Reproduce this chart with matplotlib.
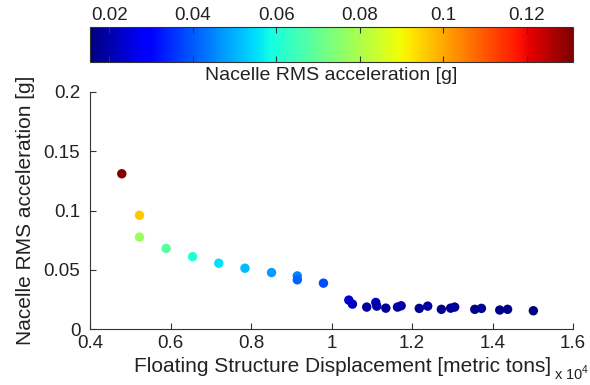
import numpy as np
import matplotlib.pyplot as plt
from matplotlib.ticker import FuncFormatter

plt.rcParams["font.family"] = ["Liberation Sans", "DejaVu Sans"]
plt.rcParams["font.size"] = 13.5
plt.rcParams["mathtext.fontset"] = "custom"
plt.rcParams["mathtext.rm"] = "Liberation Sans"

# floating structure displacement [metric tons]
displacement = [4790, 5230, 5230, 5890, 6550, 7200, 7850, 8510, 9150, 9150,
                9800, 10430, 10520, 10875, 11100, 11125, 11350, 11640, 11730,
                12180, 12390, 12730, 12960, 13060, 13560, 13725, 14180,
                14375, 15015]
# nacelle RMS acceleration [g]
accel = [0.131, 0.096, 0.0776, 0.068, 0.061, 0.0555, 0.0513, 0.0476, 0.0448,
         0.0415, 0.0387, 0.0244, 0.021, 0.0185, 0.0224, 0.0193, 0.0176,
         0.0185, 0.0196, 0.0174, 0.0193, 0.0166, 0.0176, 0.0185, 0.0166,
         0.0174, 0.016, 0.0166, 0.0154]

fig = plt.figure(figsize=(5.9, 3.85), dpi=100)
ax = fig.add_axes([90 / 590, 1 - 329 / 385, 483 / 590, 237 / 385])
cax = fig.add_axes([90 / 590, 1 - 62 / 385, 483 / 590, 35 / 385])

sc = ax.scatter(displacement, accel, c=accel, cmap="jet", s=46,
                edgecolors="none")

ax.set_xlim(4000, 16000)
ax.set_ylim(0, 0.2)
ax.set_xticks(np.arange(4000, 16001, 2000))
ax.xaxis.set_major_formatter(FuncFormatter(lambda v, p: "%g" % (v / 1e4)))
ax.set_yticks([0, 0.05, 0.1, 0.15, 0.2])
ax.yaxis.set_major_formatter(FuncFormatter(lambda v, p: "%g" % v))
ax.spines["top"].set_visible(False)
ax.spines["right"].set_visible(False)
for s in ["left", "bottom"]:
    ax.spines[s].set_color("#333333")
ax.tick_params(direction="in", length=4, color="#333333", colors="#222222")
ax.tick_params(axis="x", pad=4)
ax.tick_params(axis="y", pad=7)
ax.set_xlabel("Floating Structure Displacement [metric tons]", color="#222222",
              fontsize=15)
ax.xaxis.set_label_coords((343 - 90) / 483, (329 - 367) / 237)
ax.xaxis.label.set_va("center")
ax.set_ylabel("Nacelle RMS acceleration [g]", color="#222222", fontsize=15)
ax.yaxis.set_label_coords((26 - 90) / 483, 0.5)
ax.yaxis.label.set_va("center")
fig.text(554 / 590, 1 - 373 / 385, r"x 10$^4$", ha="left", va="center",
         color="#222222", fontsize=10.5)

cb = fig.colorbar(sc, cax=cax, orientation="horizontal")
cb.set_ticks([0.02, 0.04, 0.06, 0.08, 0.1, 0.12])
cb.set_ticklabels(["0.02", "0.04", "0.06", "0.08", "0.1", "0.12"])
cax.xaxis.set_ticks_position("both")
cax.xaxis.set_tick_params(labeltop=True, labelbottom=False, direction="in",
                          length=4, color="#333333", labelcolor="#222222",
                          pad=2)
cb.outline.set_edgecolor("#333333")
cb.set_label("Nacelle RMS acceleration [g]", color="#222222", fontsize=14)
cax.xaxis.set_label_position("bottom")
cax.xaxis.set_label_coords((331 - 90) / 483, (62 - 75) / 35)
cax.xaxis.label.set_va("center")

fig.savefig("out.png", dpi=100)
